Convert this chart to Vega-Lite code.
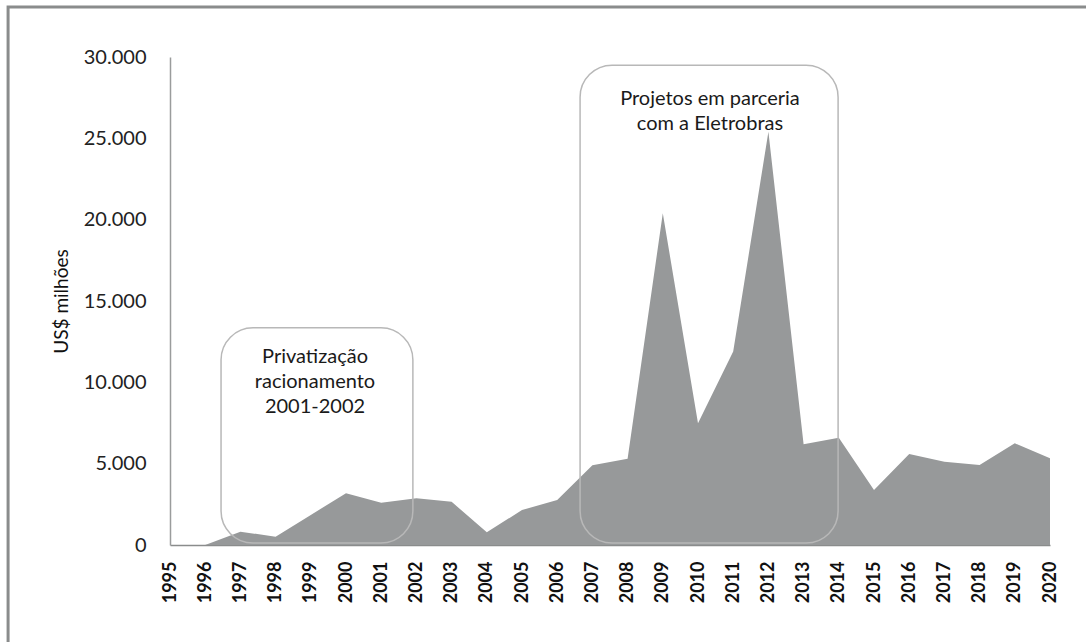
{
  "$schema": "https://vega.github.io/schema/vega-lite/v6.json",
  "width": 880,
  "height": 488,
  "autosize": {"type": "none"},
  "padding": {"left": 170, "top": 57, "right": 36, "bottom": 97},
  "background": "white",
  "config": {
    "view": {"stroke": null},
    "font": "Lato",
    "locale": {"number": {"decimal": ",", "thousands": ".", "grouping": [3], "currency": ["R$", ""]}},
    "axisX": {
      "labelAngle": -90,
      "labelAlign": "right",
      "labelBaseline": "middle",
      "labelFontSize": 18,
      "labelFontWeight": "bold",
      "labelColor": "#111111",
      "labelPadding": 16,
      "labelOverlap": false,
      "labelFlush": false,
      "ticks": false,
      "grid": false,
      "domainColor": "#8a8c8c",
      "domainWidth": 1.5
    },
    "axisY": {
      "titleFontSize": 19,
      "titleFontWeight": "normal",
      "titleColor": "#111111",
      "titlePadding": 12,
      "labelFontSize": 20,
      "labelColor": "#222222",
      "labelPadding": 24,
      "labelOverlap": false,
      "ticks": false,
      "grid": false,
      "domainColor": "#9a9c9c",
      "domainWidth": 1.5
    }
  },
  "datasets": {
    "serie": [
      {"ano": 1995, "valor": 0},
      {"ano": 1996, "valor": 0},
      {"ano": 1997, "valor": 820},
      {"ano": 1998, "valor": 510},
      {"ano": 1999, "valor": 1850},
      {"ano": 2000, "valor": 3180},
      {"ano": 2001, "valor": 2600},
      {"ano": 2002, "valor": 2870},
      {"ano": 2003, "valor": 2660},
      {"ano": 2004, "valor": 780},
      {"ano": 2005, "valor": 2150},
      {"ano": 2006, "valor": 2770},
      {"ano": 2007, "valor": 4900},
      {"ano": 2008, "valor": 5300},
      {"ano": 2009, "valor": 20390},
      {"ano": 2010, "valor": 7480},
      {"ano": 2011, "valor": 11900},
      {"ano": 2012, "valor": 25400},
      {"ano": 2013, "valor": 6200},
      {"ano": 2014, "valor": 6600},
      {"ano": 2015, "valor": 3380},
      {"ano": 2016, "valor": 5590},
      {"ano": 2017, "valor": 5120},
      {"ano": 2018, "valor": 4920},
      {"ano": 2019, "valor": 6250},
      {"ano": 2020, "valor": 5330}
    ],
    "caixas": [
      {"ano": 1996.45, "ano_fim": 2001.9, "valor": 13350, "valor_fim": 120},
      {"ano": 2006.65, "ano_fim": 2013.98, "valor": 29500, "valor_fim": 120}
    ],
    "rotulos": [
      {"ano": 1999.12, "valor": 12200, "texto": "Privatização\nracionamento\n2001-2002"},
      {"ano": 2010.34, "valor": 28060, "texto": "Projetos em parceria\ncom a Eletrobras"}
    ],
    "moldura": [
      {"ano": 1990.4, "ano_fim": 2022.5, "valor": 33070, "valor_fim": -8000}
    ]
  },
  "encoding": {
    "x": {
      "field": "ano", "type": "quantitative",
      "scale": {"domain": [1995, 2020], "nice": false, "zero": false},
      "axis": {
        "title": null,
        "values": [1995,1996,1997,1998,1999,2000,2001,2002,2003,2004,2005,2006,2007,2008,2009,2010,2011,2012,2013,2014,2015,2016,2017,2018,2019,2020],
        "format": "d",
        "labelOverlap": false
      }
    },
    "y": {
      "field": "valor", "type": "quantitative",
      "scale": {"domain": [0, 30000], "nice": false},
      "axis": {
        "title": "US$ milhões",
        "values": [0, 5000, 10000, 15000, 20000, 25000, 30000],
        "format": ",d"
      }
    }
  },
  "layer": [
    {
      "data": {"name": "serie"},
      "mark": {"type": "area", "color": "#97999a", "opacity": 1}
    },
    {
      "data": {"name": "caixas"},
      "mark": {"type": "rect", "fill": null, "fillOpacity": 0, "stroke": "#b8b8b8", "strokeWidth": 1.5, "cornerRadius": 32},
      "encoding": {
        "x2": {"field": "ano_fim"},
        "y2": {"field": "valor_fim"}
      }
    },
    {
      "data": {"name": "rotulos"},
      "mark": {"type": "text", "align": "center", "baseline": "top", "fontSize": 20, "lineHeight": 25, "lineBreak": "\n", "color": "#1a1a1a"},
      "encoding": {
        "text": {"field": "texto"}
      }
    },
    {
      "data": {"name": "moldura"},
      "mark": {"type": "rect", "fill": null, "fillOpacity": 0, "stroke": "#8a8c8c", "strokeWidth": 3},
      "encoding": {
        "x2": {"field": "ano_fim"},
        "y2": {"field": "valor_fim"}
      }
    }
  ]
}
